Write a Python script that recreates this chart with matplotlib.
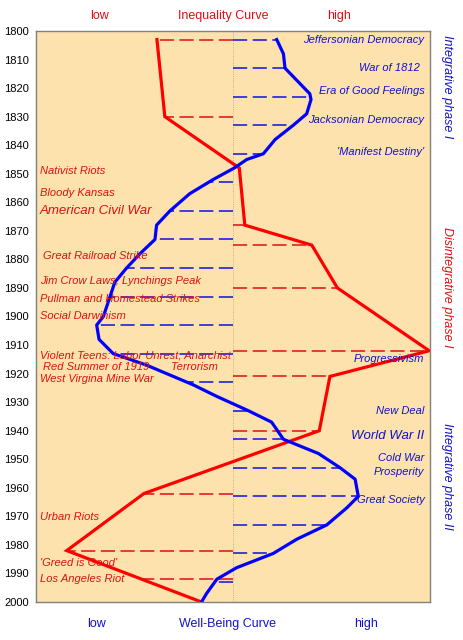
import matplotlib
matplotlib.use("Agg")
import matplotlib.pyplot as plt
import numpy as np

plt.rcParams['font.family'] = ['Liberation Sans', 'DejaVu Sans']

# inequality curve (red), 0 = low, 100 = high
ineq_years = [1803, 1830, 1848, 1868, 1875, 1890, 1912, 1921, 1940, 1962, 1982, 2000]
ineq_vals = [30.7, 32.7, 51.6, 53, 70, 76.5, 99.8, 74.6, 71.9, 27.4, 7.8, 42]

# well-being curve (blue)
wb_years = [1803, 1808, 1813, 1822, 1824, 1829, 1833, 1838, 1843, 1845, 1848,
            1852, 1857, 1863, 1868, 1873, 1878, 1883, 1888, 1893, 1900, 1903,
            1908, 1913, 1917, 1924, 1928, 1933, 1937, 1943, 1948, 1953, 1957,
            1963, 1967, 1973, 1978, 1983, 1988, 1992, 1997, 2000]
wb_vals = [61.1, 62.8, 63.2, 69.5, 69.8, 68.7, 65.3, 60.7, 57.7, 53.5, 50.3,
           45, 39, 34, 30.6, 30.2, 26.4, 23, 20, 18.8, 17.1, 15.4,
           16, 19.6, 28, 40, 45.9, 53.9, 59.8, 62.8, 71.7, 77.2, 81,
           81.8, 78.9, 73.8, 66.2, 60.2, 50.9, 45.9, 43.3, 42]

# years with dashed markers
ineq_marks = [1803, 1830, 1868, 1875, 1890, 1912, 1921, 1940, 1962, 1982, 1992]
wb_marks = list(range(1803, 2000, 10))

# event labels
red_labels = ["Nativist Riots", "Bloody Kansas", "American Civil War",
              "Great Railroad Strike", "Jim Crow Laws; Lynchings Peak",
              "Pullman and Homestead Strikes", "Social Darwinism",
              "Violent Teens: Labor Unrest, Anarchist", "Red Summer of 1919",
              "West Virgina Mine War", "Urban Riots", "'Greed is Good'",
              "Los Angeles Riot"]
red_label_years = [1848.9, 1856.6, 1863, 1878.7, 1887.5, 1893.9, 1899.7,
                   1913.6, 1917.8, 1922, 1970.1, 1986.2, 1992]

blue_labels = ["Jeffersonian Democracy", "War of 1812", "Era of Good Feelings",
               "Jacksonian Democracy", "'Manifest Destiny'", "Progressivism",
               "New Deal", "World War II", "Cold War", "Prosperity",
               "Great Society"]
blue_label_years = [1803.2, 1812.9, 1820.9, 1831.2, 1842.3, 1914.8,
                    1933.1, 1941.8, 1949.5, 1954.4, 1964.3]

phases = ["Integrative phase I", "Disintegrative phase I", "Integrative phase II"]
phase_years = [1819.6, 1889.7, 1955.9]

RED = '#ff0000'
BLUE = '#0000ff'
RED_TXT = '#dd1111'
BLUE_TXT = '#1111cc'
center = 50

fig = plt.figure(figsize=(4.64, 6.40), dpi=100)
ax = fig.add_axes([36 / 464, 38 / 640, 394 / 464, 571 / 640])
ax.set_facecolor('#fde2ad')
ax.set_xlim(0, 100)
ax.set_ylim(2000, 1800)
ax.set_xticks([])
ax.set_yticks(range(1800, 2001, 10))
ax.tick_params(axis='y', length=0, pad=5, labelsize=8)
for s in ax.spines.values():
    s.set_color('#808080')
    s.set_linewidth(1)

ax.axvline(center, color='#b0a090', lw=0.6, ls=':')

dash = (0, (8.5, 3.3))
ineq_at = np.interp(ineq_marks, ineq_years, ineq_vals)
wb_at = np.interp(wb_marks, wb_years, wb_vals)
ax.hlines(ineq_marks, center, ineq_at, colors='#e02020', lw=1.2, linestyles=[dash])
ax.hlines(wb_marks, center, wb_at, colors='#2020e0', lw=1.2, linestyles=[dash])

ax.plot(ineq_vals, ineq_years, color=RED, lw=2.3, solid_joinstyle='miter')
ax.plot(wb_vals, wb_years, color=BLUE, lw=2.3)

for lab, yr in zip(red_labels, red_label_years):
    size = 9.5 if lab == "American Civil War" else 8
    x = 1.8 if lab in ("Red Summer of 1919", "Great Railroad Strike") else 1.0
    ax.text(x, yr, lab, color=RED_TXT, style='italic', fontsize=size,
            ha='left', va='center')
ax.text(34.2, 1917.8, "Terrorism", color=RED_TXT, style='italic', fontsize=8,
        ha='left', va='center')

for lab, yr in zip(blue_labels, blue_label_years):
    size = 9.5 if lab == "World War II" else 8
    x = 97.4 if lab == "War of 1812" else 98.6
    ax.text(x, yr, lab, color=BLUE_TXT, style='italic', fontsize=size,
            ha='right', va='center')

trans = ax.get_yaxis_transform()
for lab, yr, c in zip(phases, phase_years, [BLUE_TXT, RED_TXT, BLUE_TXT]):
    ax.text(1.043, yr, lab, transform=trans, rotation=-90, color=c,
            style='italic', fontsize=9, ha='center', va='center')

fig.text(100 / 464, 1 - 15.7 / 640, "low", color=RED_TXT, fontsize=9, ha='center', va='center')
fig.text(223 / 464, 1 - 15.7 / 640, "Inequality Curve", color=RED_TXT, fontsize=9, ha='center', va='center')
fig.text(339 / 464, 1 - 15.7 / 640, "high", color=RED_TXT, fontsize=9, ha='center', va='center')
fig.text(97 / 464, 1 - 624 / 640, "low", color=BLUE_TXT, fontsize=9, ha='center', va='center')
fig.text(228 / 464, 1 - 624 / 640, "Well-Being Curve", color=BLUE_TXT, fontsize=9, ha='center', va='center')
fig.text(366 / 464, 1 - 624 / 640, "high", color=BLUE_TXT, fontsize=9, ha='center', va='center')

fig.savefig("out.png", dpi=100)
